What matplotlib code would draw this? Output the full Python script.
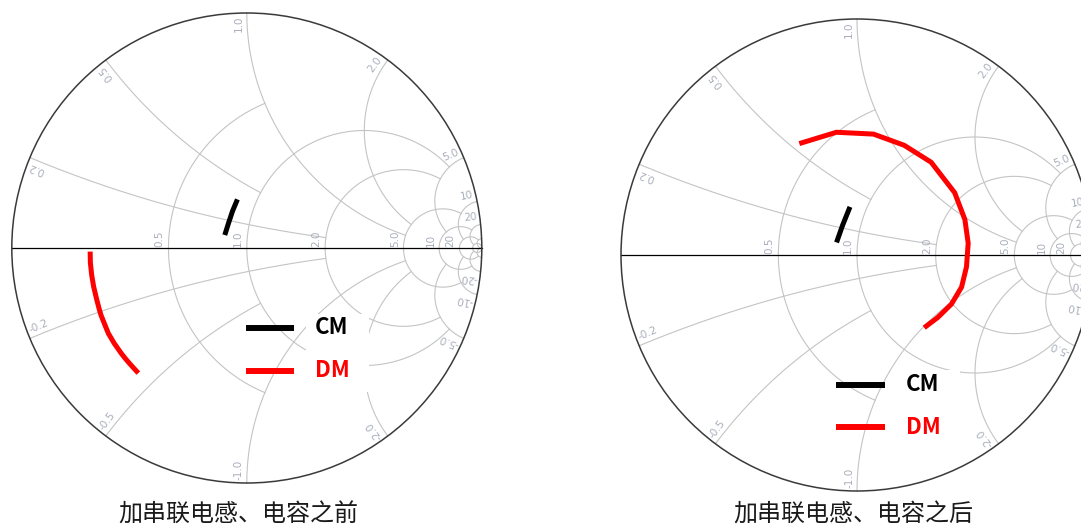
import numpy as np
import matplotlib.pyplot as plt
from matplotlib.patches import Circle, Rectangle

plt.rcParams['font.family'] = ['Noto Sans CJK SC', 'DejaVu Sans']

# Smith chart grid: circle values and the circle each arc stops at
r_values = [0.5, 1.0, 2.0, 5.0, 10.0, 20.0, 50.0]
r_stops = [1.0, 5.0, 5.0, 10.0, 20.0, 50.0, np.inf]
x_values = [0.2, 0.5, 1.0, 2.0, 5.0, 10.0, 20.0, 50.0]
x_stops = [2.0, 1.0, 5.0, 5.0, 10.0, 20.0, 50.0, np.inf]
r_labels = ['0.5', '1.0', '2.0', '5.0', '10', '20']
x_labels = ['0.2', '0.5', '1.0', '2.0', '5.0', '10', '20']

# normalised input impedance sweeps (resistance r, reactance x)
before_cm_r = [0.824, 0.838, 0.845, 0.850]
before_cm_x = [0.092, 0.181, 0.273, 0.368]
before_dm_r = [0.200, 0.199, 0.199, 0.199, 0.199, 0.198, 0.197,
               0.196, 0.198, 0.201, 0.203, 0.205, 0.208]
before_dm_x = [-0.011, -0.045, -0.083, -0.120, -0.162, -0.190, -0.211,
               -0.273, -0.310, -0.351, -0.375, -0.397, -0.440]

after_cm_r = [0.836, 0.859, 0.869]
after_cm_x = [0.090, 0.223, 0.370]
after_dm_r = [0.405, 0.497, 0.650, 0.869, 1.195, 1.837, 2.423,
              2.748, 2.699, 2.389, 1.976, 1.615, 1.359]
after_dm_x = [0.533, 0.716, 0.909, 1.086, 1.258, 1.278, 0.946,
              0.355, -0.345, -0.828, -1.032, -1.053, -1.016]

titles = ['加串联电感、电容之前', '加串联电感、电容之后']

GRID = '#c4c4c4'
LABEL = '#a9aebb'
W, H = 1081, 529


def gamma(z):
    return (z - 1) / (z + 1)


def upper(stop):
    return np.arctan(stop) if np.isfinite(stop) else np.pi / 2 * 0.99995


def smith_axes(fig, cx, cy, rad):
    m = 1.05
    ax = fig.add_axes([(cx - m * rad) / W, (H - cy - m * rad) / H,
                       2 * m * rad / W, 2 * m * rad / H])
    ax.set_xlim(-m, m)
    ax.set_ylim(-m, m)
    ax.axis('off')

    for r, stop in zip(r_values, r_stops):
        lim = upper(stop)
        x = np.tan(np.linspace(-lim, lim, 800))
        g = gamma(r + 1j * x)
        ax.plot(g.real, g.imag, color=GRID, lw=0.8, zorder=1)
    for xv, stop in zip(x_values, x_stops):
        r = np.tan(np.linspace(0, upper(stop), 600))
        for s in (1, -1):
            g = gamma(r + 1j * s * xv)
            ax.plot(g.real, g.imag, color=GRID, lw=0.8, zorder=1)

    ax.plot([-1, 1], [0, 0], color='black', lw=0.9, zorder=2)
    ax.add_patch(Circle((0, 0), 1, fill=False, ec='#3a3a3a', lw=1.1, zorder=2))

    # resistance labels along the real axis
    for r, lab in zip(r_values, r_labels):
        g = (r - 1) / (r + 1)
        ax.text(g - 0.016, 0.004, lab, rotation=90, rotation_mode='anchor',
                ha='left', va='bottom', fontsize=7.5, color=LABEL,
                family='DejaVu Sans', zorder=3)
    # reactance labels round the rim
    for xv, lab in zip(x_values, x_labels):
        for s in (1, -1):
            gp = gamma(1j * s * xv)
            th = np.angle(gp)
            if s > 0:
                rot, ha, up = np.degrees(th), 'right', th + np.pi / 2
                text = lab
            else:
                rot, ha, up = np.degrees(th) + 180, 'left', th - np.pi / 2
                text = '-' + lab
            p = 0.988 * gp + 0.012 * np.exp(1j * up)
            ax.text(p.real, p.imag, text, rotation=rot, rotation_mode='anchor',
                    ha=ha, va='bottom', fontsize=7.5, color=LABEL,
                    family='DejaVu Sans', zorder=3)
    return ax


def trace(ax, r, x, color):
    g = gamma(np.asarray(r) + 1j * np.asarray(x))
    ax.plot(g.real, g.imag, color=color, lw=3.6, solid_capstyle='butt',
            solid_joinstyle='round', zorder=5)


def legend(ax, x0, x1, y_cm, y_dm, xt):
    ax.add_patch(Rectangle((xt - 0.04, y_dm - 0.09), 0.27, y_cm - y_dm + 0.15,
                           fc='white', ec='none', zorder=4))
    ax.plot([x0, x1], [y_cm, y_cm], color='black', lw=4.3,
            solid_capstyle='butt', zorder=5)
    ax.plot([x0, x1], [y_dm, y_dm], color='red', lw=4.3,
            solid_capstyle='butt', zorder=5)
    ax.text(xt, y_cm, 'CM', color='black', fontsize=16, fontweight='bold',
            ha='left', va='center', zorder=6)
    ax.text(xt, y_dm, 'DM', color='red', fontsize=16, fontweight='bold',
            ha='left', va='center', zorder=6)


fig = plt.figure(figsize=(W / 100, H / 100), dpi=100)

ax1 = smith_axes(fig, 246.8, 248, 235)
trace(ax1, before_cm_r, before_cm_x, 'black')
trace(ax1, before_dm_r, before_dm_x, 'red')
legend(ax1, -0.003, 0.2, -0.34, -0.522, 0.29)

ax2 = smith_axes(fig, 857, 255, 236)
trace(ax2, after_cm_r, after_cm_x, 'black')
trace(ax2, after_dm_r, after_dm_x, 'red')
legend(ax2, -0.091, 0.118, -0.549, -0.729, 0.208)

fig.text(238 / W, 1 - 515 / H, titles[0], ha='center', va='center',
         fontsize=17.3, color='#1a1a1a')
fig.text(853 / W, 1 - 515 / H, titles[1], ha='center', va='center',
         fontsize=17.3, color='#1a1a1a')

fig.savefig('out.png', dpi=100)
